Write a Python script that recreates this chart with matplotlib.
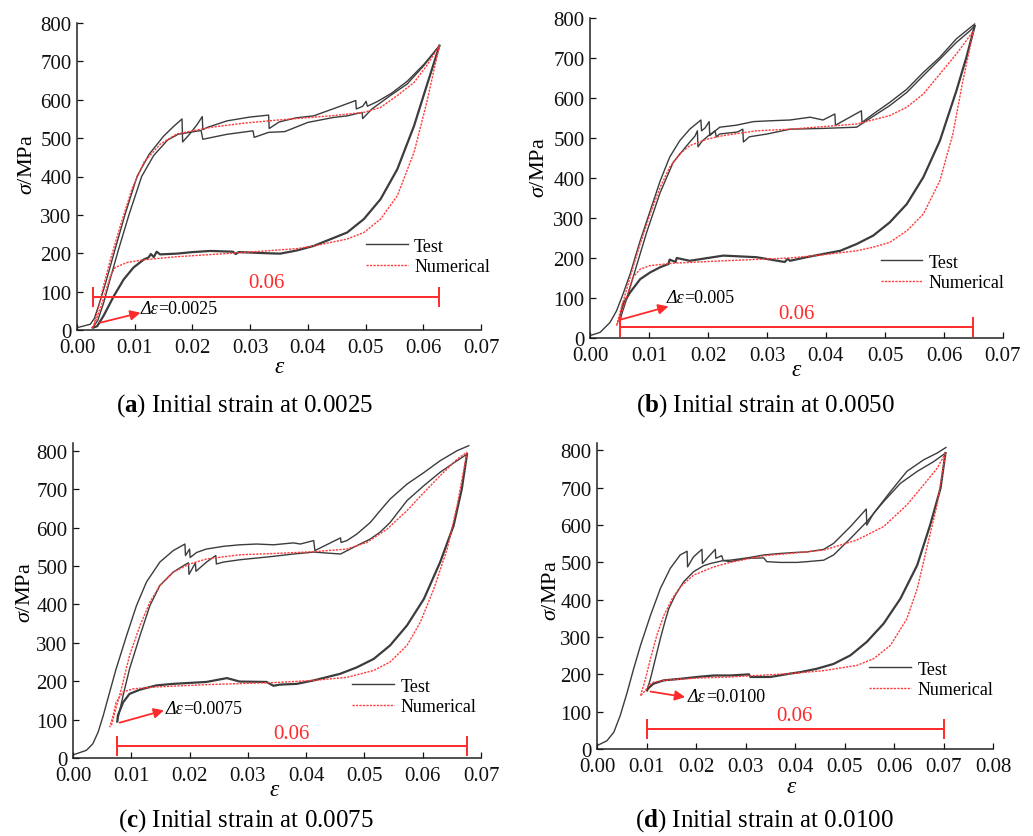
import matplotlib
matplotlib.use('Agg')
import matplotlib.pyplot as plt
import numpy as np
from matplotlib.lines import Line2D

plt.rcParams['font.family'] = 'Liberation Serif'
plt.rcParams['mathtext.fontset'] = 'custom'
plt.rcParams['mathtext.rm'] = 'Liberation Serif'
plt.rcParams['mathtext.it'] = 'Liberation Serif:italic'
plt.rcParams['mathtext.bf'] = 'Liberation Serif:bold'

# ---- panel (a): initial strain 0.0025 ----
a_test_1 = [[0, 6], [0.0023, 15], [0.003, 30], [0.004, 75], [0.005, 125], [0.0065, 205], [0.0083, 300],
            [0.0104, 400], [0.0125, 458], [0.015, 505], [0.0167, 530], [0.0182, 550], [0.0183, 490],
            [0.0195, 510], [0.0208, 535], [0.0217, 556], [0.0218, 522], [0.0226, 528], [0.026, 545],
            [0.030, 555], [0.0332, 560], [0.0333, 525], [0.035, 542], [0.038, 553], [0.041, 558],
            [0.0445, 577], [0.0483, 598], [0.0484, 576], [0.0495, 583], [0.0501, 596], [0.0503, 583],
            [0.052, 595], [0.0545, 617], [0.0572, 648], [0.0601, 692], [0.0628, 741]]
a_test_2 = [[0.0028, 8], [0.0036, 25], [0.0046, 70], [0.0056, 125], [0.0072, 210], [0.009, 300],
            [0.0112, 400], [0.0133, 455], [0.0157, 495], [0.0175, 510], [0.0195, 515], [0.0215, 520],
            [0.0218, 497], [0.026, 510], [0.0305, 519], [0.0307, 502], [0.0332, 515], [0.036, 517],
            [0.040, 541], [0.0445, 554], [0.0468, 558], [0.0494, 567], [0.0495, 551], [0.0511, 576],
            [0.0543, 611], [0.0572, 641], [0.0601, 689], [0.0628, 741]]
a_test_unload = [[0.0628, 741], [0.0606, 637], [0.0584, 532], [0.0555, 419], [0.0526, 341], [0.0497, 289],
                 [0.0468, 254], [0.041, 219], [0.038, 207], [0.0352, 199], [0.033, 200], [0.028, 203],
                 [0.0275, 198], [0.027, 204], [0.0231, 206], [0.020, 203], [0.0173, 199], [0.0144, 197],
                 [0.0138, 204], [0.0133, 190], [0.0128, 198], [0.0124, 189], [0.0116, 184], [0.0098, 163],
                 [0.0081, 132], [0.0064, 89], [0.0046, 37], [0.0035, 10], [0.0028, 6]]
a_num_load = [[0.0025, 5], [0.0029, 11], [0.0035, 45], [0.0046, 115], [0.0058, 184], [0.0075, 271],
              [0.0095, 367], [0.0116, 437], [0.0144, 484], [0.0173, 511], [0.0231, 528], [0.0289, 539],
              [0.0347, 547], [0.0439, 558], [0.0497, 567], [0.0526, 580], [0.0555, 611], [0.0584, 645],
              [0.0606, 689], [0.0628, 741]]
a_num_unload = [[0.0628, 741], [0.0606, 593], [0.0584, 463], [0.0555, 350], [0.0526, 289], [0.0497, 254],
                [0.0468, 237], [0.041, 219], [0.0381, 212], [0.0289, 202], [0.0173, 191], [0.0116, 183],
                [0.0087, 176], [0.0066, 163], [0.0058, 141], [0.0049, 97], [0.004, 54], [0.0029, 11],
                [0.0025, 5]]

# ---- panel (b): initial strain 0.0050 ----
b_test_1 = [[0, 6], [0.0017, 14], [0.0034, 39], [0.0045, 68], [0.0056, 110], [0.0068, 160], [0.0085, 243],
            [0.0102, 318], [0.0119, 393], [0.0135, 452], [0.0152, 493], [0.0169, 522], [0.0188, 545],
            [0.0189, 518], [0.0195, 525], [0.0202, 541], [0.0203, 506], [0.021, 515], [0.022, 527],
            [0.0248, 532], [0.0277, 541], [0.0305, 543], [0.0339, 545], [0.0373, 552], [0.0395, 545],
            [0.0415, 560], [0.0416, 532], [0.046, 568], [0.0461, 539], [0.048, 560], [0.0508, 589],
            [0.0537, 622], [0.0565, 664], [0.0593, 702], [0.0621, 748], [0.0652, 785]]
b_test_2 = [[0.005, 43], [0.0062, 97], [0.0079, 181], [0.0096, 264], [0.0119, 364], [0.0141, 439],
            [0.0164, 481], [0.0178, 505], [0.0182, 518], [0.0183, 478], [0.019, 492], [0.020, 505],
            [0.0212, 518], [0.0214, 503], [0.022, 510], [0.025, 515], [0.0259, 522], [0.026, 490],
            [0.027, 503], [0.030, 510], [0.0339, 522], [0.0395, 524], [0.0452, 527], [0.046, 535],
            [0.0486, 560], [0.0508, 581], [0.0537, 614], [0.0565, 656], [0.0593, 697], [0.0621, 739],
            [0.0644, 768], [0.0652, 780]]
b_test_unload = [[0.0652, 780], [0.0638, 702], [0.0621, 618], [0.0593, 493], [0.0565, 402], [0.0537, 335],
                 [0.0508, 289], [0.048, 256], [0.0452, 235], [0.0424, 218], [0.0395, 210], [0.0367, 202],
                 [0.0339, 193], [0.0335, 198], [0.033, 190], [0.0282, 202], [0.0226, 206], [0.0169, 193],
                 [0.0147, 200], [0.0145, 190], [0.0135, 196], [0.0133, 185], [0.0119, 177], [0.0102, 164],
                 [0.0085, 147], [0.0068, 114], [0.0056, 85], [0.0051, 48], [0.005, 43]]
b_num_load = [[0.0045, 31], [0.0052, 70], [0.0068, 152], [0.0085, 235], [0.0102, 310], [0.0119, 377],
              [0.0135, 427], [0.0152, 460], [0.0169, 481], [0.0198, 497], [0.0226, 506], [0.0282, 518],
              [0.0339, 522], [0.0452, 535], [0.0508, 556], [0.0537, 577], [0.0565, 610], [0.0593, 660],
              [0.0621, 710], [0.065, 768]]
b_num_unload = [[0.065, 768], [0.0632, 643], [0.0615, 510], [0.0593, 393], [0.0565, 310], [0.0537, 268],
                [0.0508, 239], [0.048, 227], [0.0452, 218], [0.0395, 208], [0.0339, 200], [0.0226, 193],
                [0.0141, 187], [0.0102, 181], [0.0085, 172], [0.0073, 152], [0.0062, 102], [0.0051, 52],
                [0.0045, 31]]

# ---- panel (c): initial strain 0.0075 ----
c_test_1 = [[0, 8], [0.0023, 20], [0.0034, 37], [0.0043, 67], [0.0052, 111], [0.0063, 172], [0.0074, 232],
            [0.0092, 319], [0.0109, 397], [0.0126, 458], [0.0149, 510], [0.0172, 540], [0.0192, 557],
            [0.0193, 527], [0.020, 544], [0.0201, 522], [0.0212, 535], [0.0229, 544], [0.0258, 551],
            [0.0286, 555], [0.0315, 557], [0.0344, 555], [0.0378, 560], [0.039, 557], [0.0413, 566],
            [0.0415, 540], [0.0459, 573], [0.046, 561], [0.047, 566], [0.0487, 583], [0.051, 613],
            [0.0527, 644], [0.0544, 674], [0.0573, 713], [0.0602, 743], [0.063, 774], [0.0659, 800],
            [0.0679, 813]]
c_test_2 = [[0.0076, 95], [0.0086, 163], [0.0097, 232], [0.0115, 319], [0.0132, 397], [0.0149, 449],
            [0.0172, 484], [0.0192, 503], [0.0198, 508], [0.0199, 478], [0.0206, 497], [0.021, 508],
            [0.0211, 486], [0.0229, 510], [0.0245, 527], [0.0246, 505], [0.0258, 510], [0.0286, 516],
            [0.0344, 525], [0.0378, 531], [0.0413, 536], [0.0459, 531], [0.0482, 549], [0.051, 570],
            [0.0527, 588], [0.0544, 613], [0.0573, 670], [0.0602, 709], [0.063, 744], [0.0659, 774],
            [0.0676, 791]]
c_test_unload = [[0.0676, 791], [0.0667, 700], [0.0653, 605], [0.063, 510], [0.0602, 414], [0.0573, 345],
                 [0.0544, 293], [0.0516, 258], [0.0487, 236], [0.0458, 219], [0.0413, 202], [0.0384, 193],
                 [0.0355, 191], [0.0344, 188], [0.0332, 198], [0.0286, 199], [0.0264, 208], [0.0229, 198],
                 [0.0172, 193], [0.0143, 189], [0.0115, 178], [0.0097, 167], [0.0086, 145], [0.0077, 111],
                 [0.0076, 95]]
c_num_load = [[0.0066, 85], [0.0072, 120], [0.0083, 180], [0.0097, 267], [0.0115, 345], [0.0132, 406],
              [0.0149, 449], [0.0172, 484], [0.020, 505], [0.0229, 518], [0.0286, 529], [0.0355, 533],
              [0.0413, 537], [0.047, 544], [0.0504, 561], [0.0539, 596], [0.0573, 644], [0.0602, 691],
              [0.063, 735], [0.0659, 778], [0.0676, 796]]
c_num_unload = [[0.0676, 796], [0.0659, 657], [0.0642, 544], [0.0619, 440], [0.0596, 354], [0.0573, 293],
                [0.0544, 250], [0.0516, 228], [0.047, 210], [0.0413, 202], [0.0355, 197], [0.0229, 191],
                [0.0143, 185], [0.0103, 180], [0.0086, 172], [0.0074, 145], [0.0069, 111], [0.0063, 80]]

# ---- panel (d): initial strain 0.0100 ----
d_test_1 = [[0, 9], [0.002, 22], [0.0034, 45], [0.0047, 90], [0.0061, 152], [0.0074, 215], [0.0088, 278],
            [0.0108, 358], [0.0128, 430], [0.0148, 484], [0.0168, 520], [0.0182, 530], [0.0183, 488],
            [0.0195, 515], [0.0212, 535], [0.0213, 497], [0.0225, 515], [0.0239, 535], [0.024, 511],
            [0.0252, 518], [0.0255, 505], [0.0269, 506], [0.0303, 512], [0.0337, 520], [0.037, 524],
            [0.0404, 527], [0.0424, 528], [0.0458, 535], [0.0478, 551], [0.0512, 596], [0.0544, 643],
            [0.0545, 600], [0.0559, 632], [0.0593, 690], [0.0626, 744], [0.066, 775], [0.0687, 793],
            [0.0705, 808]]
d_test_2 = [[0.0101, 157], [0.0108, 188], [0.0118, 242], [0.0128, 296], [0.0138, 345], [0.0145, 376],
            [0.0158, 412], [0.0175, 448], [0.0195, 475], [0.0215, 491], [0.0229, 497], [0.0255, 505],
            [0.0269, 502], [0.0303, 511], [0.0337, 512], [0.0343, 502], [0.037, 500], [0.0404, 500],
            [0.0424, 502], [0.0458, 506], [0.0478, 520], [0.0512, 564], [0.0545, 609], [0.0579, 663],
            [0.0613, 712], [0.0647, 744], [0.068, 770], [0.0704, 793]]
d_test_unload = [[0.0704, 793], [0.0694, 699], [0.0673, 600], [0.0647, 493], [0.0613, 403], [0.0579, 336],
                 [0.0545, 287], [0.0512, 251], [0.0478, 228], [0.0444, 215], [0.0411, 206], [0.039, 202],
                 [0.035, 193], [0.031, 193], [0.0307, 200], [0.0269, 197], [0.0236, 197], [0.0202, 193],
                 [0.0168, 188], [0.0135, 184], [0.0114, 175], [0.0104, 163], [0.0101, 157]]
d_num_load = [[0.0088, 143], [0.0098, 188], [0.0108, 242], [0.0121, 305], [0.0135, 358], [0.0152, 403],
              [0.0168, 434], [0.0195, 466], [0.0236, 488], [0.0269, 500], [0.0337, 518], [0.039, 524],
              [0.0458, 533], [0.0525, 560], [0.0579, 596], [0.0626, 654], [0.066, 708], [0.0687, 752],
              [0.0704, 793]]
d_num_unload = [[0.0704, 793], [0.0687, 654], [0.0666, 537], [0.0647, 430], [0.0626, 349], [0.0593, 278],
                [0.0559, 242], [0.0525, 224], [0.0458, 210], [0.039, 202], [0.0269, 193], [0.0202, 190],
                [0.0135, 184], [0.0114, 179], [0.0104, 170], [0.0098, 157], [0.0088, 143]]

# annotation values
span_len = 0.06
span_start = [0.0028, 0.005, 0.0076, 0.010]
span_y = [85, 27, 30, 54]
delta_labels = ['=0.0025', '=0.005', '=0.0075', '=0.0100']
captions = ['a', 'b', 'c', 'd']
caption_strain = ['0.0025', '0.0050', '0.0075', '0.0100']
x_max = [0.07, 0.07, 0.07, 0.08]
y_max = [800, 800, 820, 820]

W, H = 1033, 837
fig = plt.figure(figsize=(W / 100, H / 100), dpi=100)

# pixel boxes: left, right, top, bottom
boxes = [(77, 481, 24, 331), (590, 1003, 19, 339), (73, 481, 444, 759), (597, 993, 444, 750)]
# label / legend / annotation placement
ylab_pos = [(28, 165), (540, 168), (26, 593), (552, 591)]
xlab_pos = [(280, 368), (797, 371), (275, 791), (792, 788)]
cap_pos = [(245, 406), (765, 406), (246, 821), (764, 821)]
leg_pos = [(0.716, 0.24), (0.704, 0.205), (0.685, 0.195), (0.688, 0.227)]
text06_pos = [(0.0328, 124), (0.035, 62), (0.0375, 65), (0.0399, 90)]
arrow_from = [(0.004, 19), (0.0052, 46), (0.008, 92), (0.0108, 154)]
arrow_to = [(0.011, 45), (0.0133, 79), (0.0156, 124), (0.0178, 139)]
dtext_pos = [(0.011, 56), (0.0129, 100), (0.0159, 128), (0.0184, 141)]

panels = [
    ([a_test_1, a_test_2], a_test_unload, [a_num_load, a_num_unload]),
    ([b_test_1, b_test_2], b_test_unload, [b_num_load, b_num_unload]),
    ([c_test_1, c_test_2], c_test_unload, [c_num_load, c_num_unload]),
    ([d_test_1, d_test_2], d_test_unload, [d_num_load, d_num_unload]),
]

test_col = '#3c3c3c'
num_col = '#ff3b3b'
ann_col = '#ff2a2a'
num_ls = (0, (1.6, 0.9))

for i, (loads, unload, nums) in enumerate(panels):
    l, r, t, b = boxes[i]
    ax = fig.add_axes([l / W, 1 - b / H, (r - l) / W, (b - t) / H])
    for cur in loads:
        arr = np.array(cur)
        ax.plot(arr[:, 0], arr[:, 1], color=test_col, lw=1.0)
    arr = np.array(unload)
    # unloading branches of the repeated cycles lie on top of each other -> thicker line
    ax.plot(arr[:, 0], arr[:, 1], color=test_col, lw=1.6)
    for cur in nums:
        arr = np.array(cur)
        ax.plot(arr[:, 0], arr[:, 1], color=num_col, lw=1.0, ls=num_ls)

    ax.set_xlim(0, x_max[i])
    ax.set_ylim(0, y_max[i])
    xt = np.arange(0, x_max[i] + 1e-9, 0.01)
    ax.set_xticks(xt)
    ax.set_xticklabels(['%.2f' % v for v in xt])
    ax.set_yticks(np.arange(0, 801, 100))
    ax.tick_params(direction='in', length=4, width=0.9, labelsize=15, colors='#111111')
    ax.tick_params(axis='x', pad=6)
    ax.tick_params(axis='y', pad=4)
    for lbl in ax.get_yticklabels():
        lbl.set_verticalalignment('center_baseline')
    for s in ['top', 'right']:
        ax.spines[s].set_visible(False)
    for s in ['left', 'bottom']:
        ax.spines[s].set_linewidth(1.1)
        ax.spines[s].set_color('#222222')

    # 0.06 span bar
    x0 = span_start[i]
    ax.plot([x0, x0 + span_len], [span_y[i], span_y[i]], color=ann_col, lw=1.4,
            marker='|', markersize=14, mew=1.4)
    ax.text(text06_pos[i][0], text06_pos[i][1], '0.06', color=ann_col, fontsize=15,
            ha='center', va='center')
    ax.annotate('', xy=arrow_to[i], xytext=arrow_from[i],
                arrowprops=dict(arrowstyle='-|>', color=ann_col, lw=1.3, mutation_scale=15,
                                shrinkA=0, shrinkB=0))
    t1 = ax.text(dtext_pos[i][0], dtext_pos[i][1], '\u0394\u03b5', fontsize=13, style='italic',
                 ha='left', va='center')
    ax.annotate(delta_labels[i], xy=(1, 0), xycoords=t1, fontsize=13, ha='left', va='bottom')

    handles = [Line2D([], [], color=test_col, lw=1.0), Line2D([], [], color=num_col, lw=1.0, ls=num_ls)]
    ax.legend(handles, ['Test', 'Numerical'], loc='center left', bbox_to_anchor=leg_pos[i],
              frameon=False, fontsize=13, handlelength=2.3, handletextpad=0.35,
              labelspacing=0.2, borderpad=0, borderaxespad=0)

    fig.text(ylab_pos[i][0] / W, 1 - ylab_pos[i][1] / H, r'$\sigma$/MPa', fontsize=16,
             rotation=90, ha='center', va='center')
    fig.text(xlab_pos[i][0] / W, 1 - xlab_pos[i][1] / H, r'$\varepsilon$', fontsize=17,
             ha='center', va='center')
    fig.text(cap_pos[i][0] / W, 1 - cap_pos[i][1] / H,
             r'($\mathbf{%s}$) Initial strain at %s' % (captions[i], caption_strain[i]),
             fontsize=18, ha='center', va='center')

fig.savefig('out.png', dpi=100)
